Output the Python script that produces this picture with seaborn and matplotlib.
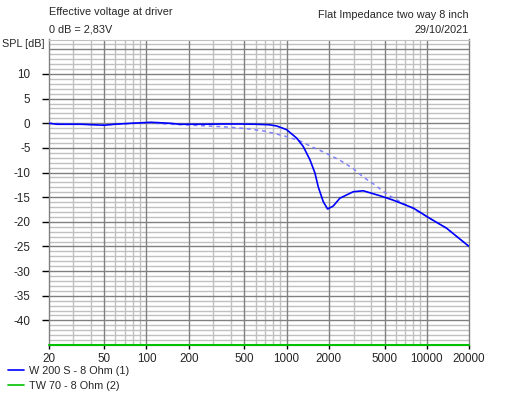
import numpy as np
import pandas as pd
import matplotlib
matplotlib.use("Agg")
import matplotlib.pyplot as plt
import seaborn as sns
from matplotlib.lines import Line2D

# ---- data ----
freq_w = [20, 23, 34, 50, 59, 78, 108, 147, 173, 250, 350, 450, 600, 750, 849, 1000,
          1178, 1313, 1466, 1592, 1680, 1824, 1960, 2149, 2399, 2985, 3517, 4624, 5754,
          7996, 10518, 13840, 20000]
spl_w = [0, -0.2, -0.2, -0.4, -0.2, 0.0, 0.2, 0.0, -0.2, -0.2, -0.15, -0.15, -0.2, -0.3,
         -0.55, -1.3, -3.0, -4.7, -7.4, -10.1, -12.9, -15.9, -17.4, -16.8, -15.2, -13.9,
         -13.7, -14.7, -15.6, -17.2, -19.3, -21.3, -25.0]

freq_sum = [20, 50, 100, 150, 250, 350, 520, 700, 849, 1000, 1250, 1466, 1824, 2399, 2985,
            3517, 4300, 5200, 6500, 8000, 10518, 13840, 20000]
spl_sum = [0, -0.3, 0.1, -0.2, -0.5, -0.7, -1.1, -1.6, -2.2, -2.7, -3.6, -4.6, -5.8, -7.5,
           -9.2, -10.9, -12.6, -14.4, -16.0, -17.3, -19.3, -21.3, -25.0]

freq_tw = [20, 20000]
spl_tw = [-45, -45]

series_labels = ["W 200 S - 8 Ohm (1)", "TW 70 - 8 Ohm (2)"]
x_ticks = [20, 50, 100, 200, 500, 1000, 2000, 5000, 10000, 20000]
y_ticks = [10, 5, 0, -5, -10, -15, -20, -25, -30, -35, -40]

sns.set_style("white")
plt.rcParams['font.family'] = ['Liberation Sans', 'DejaVu Sans']

fig = plt.figure(figsize=(5.07, 3.98), dpi=100)
ax = fig.add_axes([48.5/507, 1-345/398, (469-48.5)/507, (345-39.5)/398])

ax.set_xscale("log")
ax.set_xlim(20, 20000)
ax.set_ylim(-45, 17)

# grid
minor_x = [m * 10**e for e in range(1, 5) for m in range(1, 10)]
major_x = [m * 10**e for e in range(1, 5) for m in (1, 2, 5)]
for xv in minor_x:
    if 20 < xv < 20000 and xv not in major_x:
        ax.axvline(xv, color="#c0c0c0", lw=1, zorder=0)
for xv in major_x:
    if 20 < xv < 20000:
        ax.axvline(xv, color="#808080", lw=1, zorder=0.5)
for yv in range(-44, 17):
    if yv % 5 != 0:
        ax.axhline(yv, color="#c0c0c0", lw=1, zorder=0)
for yv in range(-40, 17, 5):
    ax.axhline(yv, color="#808080", lw=1, zorder=0.5)

df_w = pd.DataFrame({"f": freq_w, "spl": spl_w})
df_s = pd.DataFrame({"f": freq_sum, "spl": spl_sum})
df_t = pd.DataFrame({"f": freq_tw, "spl": spl_tw})

sns.lineplot(data=df_s, x="f", y="spl", ax=ax, color="#8080ff", lw=1.1,
             linestyle=(0, (2.5, 2.5)), sort=False, zorder=3)
sns.lineplot(data=df_w, x="f", y="spl", ax=ax, color="#0000ff", lw=1.2, sort=False, zorder=4)
sns.lineplot(data=df_t, x="f", y="spl", ax=ax, color="#00c000", lw=1.5, sort=False, zorder=5)
ax.lines[-1].set_clip_on(False)

fs = 7.8
ax.set_xticks(x_ticks)
ax.set_xticklabels([str(v) for v in x_ticks])
ax.xaxis.set_minor_locator(matplotlib.ticker.NullLocator())
ax.set_yticks(y_ticks)
ax.set_yticklabels([str(v) for v in y_ticks])
ax.tick_params(axis="y", which="major", direction="out", length=5, width=1,
               color="#000000", labelsize=fs + 0.6, pad=8, left=True)
ax.tick_params(axis="x", which="major", direction="out", length=3, width=1,
               color="#000000", labelsize=fs + 0.6, pad=3, bottom=True)
ax.set_xlabel("")
ax.set_ylabel("")

for side in ["left", "right"]:
    ax.spines[side].set_color("#808080")
    ax.spines[side].set_linewidth(1)
ax.spines["top"].set_color("#c0c0c0")
ax.spines["bottom"].set_color("#808080")

fig.text(49/507, 1-12/398, "Effective voltage at driver", fontsize=fs, va="center", ha="left")
fig.text(49/507, 1-29/398, "0 dB = 2,83V", fontsize=fs, va="center", ha="left")
fig.text(469/507, 1-15/398, "Flat Impedance two way 8 inch", fontsize=fs, va="center", ha="right")
fig.text(469/507, 1-30/398, "29/10/2021", fontsize=fs, va="center", ha="right")
fig.text(2/507, 1-44/398, "SPL [dB]", fontsize=fs, va="center", ha="left")

handles = [Line2D([], [], color="#0000ff", lw=1.2), Line2D([], [], color="#00c000", lw=1.2)]
fig.legend(handles, series_labels, loc="upper left", bbox_to_anchor=(8/507, 1-366/398),
           frameon=False, fontsize=fs, handlelength=1.5, handletextpad=0.4,
           labelspacing=0.45, borderaxespad=0, borderpad=0.0)

fig.savefig("out.png", dpi=100)
